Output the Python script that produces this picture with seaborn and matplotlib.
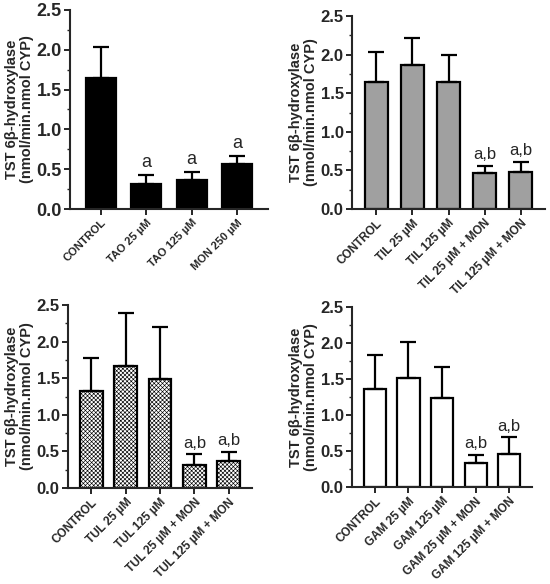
import matplotlib
matplotlib.use("Agg")
import matplotlib.pyplot as plt
from matplotlib.ticker import MultipleLocator
import seaborn as sns
import numpy as np
import pandas as pd

sns.set_style("ticks")
plt.rcParams['font.family'] = ['Liberation Sans', 'DejaVu Sans']
plt.rcParams['hatch.linewidth'] = 0.45

# panel data (mean, upper error)
tao_labels = ["CONTROL", "TAO 25 µM", "TAO 125 µM", "MON 250 µM"]
tao_mean = [1.64, 0.32, 0.36, 0.56]
tao_err = [0.40, 0.11, 0.10, 0.11]
tao_marks = ["", "a", "a", "a"]

til_labels = ["CONTROL", "TIL 25 µM", "TIL 125 µM", "TIL 25 µM + MON", "TIL 125 µM + MON"]
til_mean = [1.64, 1.86, 1.65, 0.46, 0.48]
til_err = [0.40, 0.36, 0.35, 0.10, 0.13]

tul_labels = ["CONTROL", "TUL 25 µM", "TUL 125 µM", "TUL 25 µM + MON", "TUL 125 µM + MON"]
tul_mean = [1.33, 1.66, 1.49, 0.31, 0.37]
tul_err = [0.45, 0.73, 0.71, 0.15, 0.12]

gam_labels = ["CONTROL", "GAM 25 µM", "GAM 125 µM", "GAM 25 µM + MON", "GAM 125 µM + MON"]
gam_mean = [1.36, 1.51, 1.24, 0.34, 0.46]
gam_err = [0.47, 0.50, 0.42, 0.11, 0.23]

mon_marks = ["", "", "", "a,b", "a,b"]

W, H = 550, 584
fig = plt.figure(figsize=(W / 100, H / 100), dpi=100)


def px_axes(left, right, top, bottom):
    return fig.add_axes([left / W, 1 - bottom / H, (right - left) / W, (bottom - top) / H])


def panel(ax, labels, mean, err, marks, face, hatch=None, tick_fs=10, lab_fs=7.5, mark_fs=11):
    df = pd.DataFrame({"group": labels, "value": mean})
    sns.barplot(data=df, x="group", y="value", ax=ax, color=face, width=0.66,
                edgecolor="black", linewidth=1.6, saturation=1, errorbar=None)
    if hatch:
        for p in ax.patches:
            p.set_hatch(hatch)
    x = np.arange(len(labels))
    ax.errorbar(x, mean, yerr=[np.zeros(len(mean)), err], fmt="none",
                ecolor="black", elinewidth=1.6, capsize=5.5, capthick=1.6)
    for xi, m, e, t in zip(x, mean, err, marks):
        if t:
            ax.text(xi, m + e + 0.05, t, ha="center", va="bottom", fontsize=mark_fs)
    ax.set_xlim(-0.68, len(labels) - 1 + 0.68)
    ax.set_ylim(0, 2.5)
    ax.yaxis.set_major_locator(MultipleLocator(0.5))
    ax.yaxis.set_minor_locator(MultipleLocator(0.25))
    ax.set_yticks(ax.get_yticks())
    ax.set_yticklabels([f"{v:.1f}" for v in ax.get_yticks()], fontweight="bold", fontsize=tick_fs)
    ax.set_xticks(x)
    ax.set_xticklabels(labels, rotation=45, ha="right", rotation_mode="anchor",
                       fontweight="bold", fontsize=lab_fs)
    ax.tick_params(axis="both", which="major", length=4, width=1.4, direction="out", pad=2)
    ax.tick_params(axis="y", which="minor", length=2.5, width=1.0, direction="out")
    ax.set_xlabel("")
    ax.set_ylabel("TST 6β-hydroxylase\n(nmol/min.nmol CYP)", fontweight="bold",
                  fontsize=10.5, labelpad=2, linespacing=1.05)
    for s in ["left", "bottom"]:
        ax.spines[s].set_linewidth(1.5)
    sns.despine(ax=ax)
    ax.set_ylim(0, 2.5)


ax1 = px_axes(70, 268, 10, 209)
panel(ax1, tao_labels, tao_mean, tao_err, tao_marks, "black", tick_fs=13, lab_fs=8, mark_fs=13)

ax2 = px_axes(352, 545, 16, 209)
panel(ax2, til_labels, til_mean, til_err, mon_marks, "#a0a0a0", tick_fs=12, lab_fs=8.5, mark_fs=12)

ax3 = px_axes(68, 252, 305, 488)
panel(ax3, tul_labels, tul_mean, tul_err, mon_marks, "white", hatch="xxxxxxxx", tick_fs=12, lab_fs=8.5, mark_fs=12)

ax4 = px_axes(352, 532, 307, 487)
panel(ax4, gam_labels, gam_mean, gam_err, mon_marks, "white", tick_fs=12, lab_fs=8.5, mark_fs=12)

fig.savefig("out.png", dpi=100)
